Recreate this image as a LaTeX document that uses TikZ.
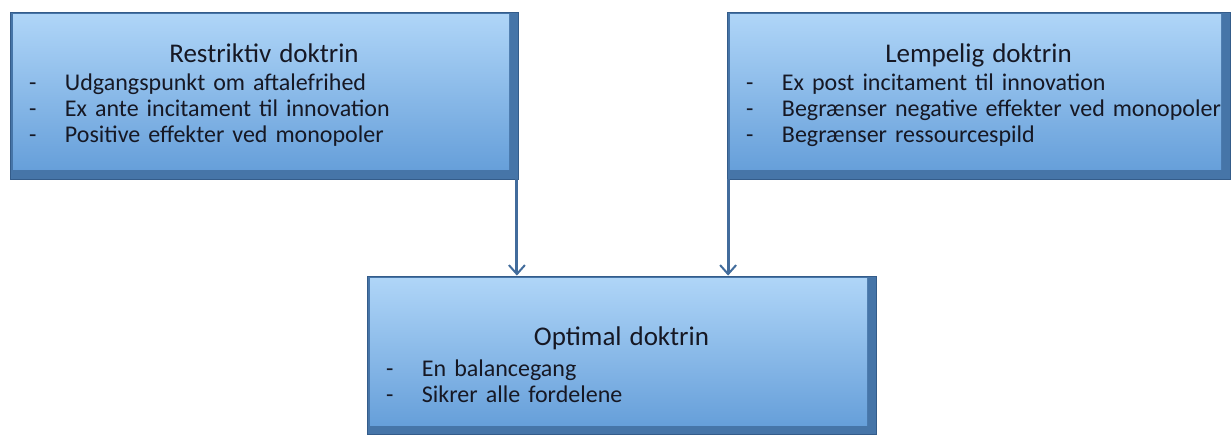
\documentclass[tikz,border=0pt]{standalone}
\usepackage{fontspec}
\setmainfont{Carlito}
\usepackage{tikz}
\usetikzlibrary{arrows.meta, positioning, calc}

\definecolor{bevelblue}{RGB}{70,117,168}
\definecolor{edgeblue}{RGB}{52,92,138}
\definecolor{lightblue}{RGB}{176,214,248}
\definecolor{midblue}{RGB}{98,156,216}
\definecolor{arrowblue}{RGB}{66,108,156}
\definecolor{textdark}{RGB}{22,24,36}

\newcommand{\punkt}[1]{\makebox[36pt][l]{-}\mbox{#1}}
\newcommand{\titel}[1]{\makebox[\linewidth][c]{\fontsize{27}{27}\selectfont#1}}

\begin{document}
\begin{tikzpicture}[
  x=1pt, y=-1pt,
  bevelbox/.style={rectangle, fill=bevelblue, draw=edgeblue, line width=0.8pt, inner xsep=19pt, inner ysep=0pt,
    font=\fontsize{24}{26}\selectfont, text=textdark, align=left,
    path picture={
      \shade[top color=lightblue, bottom color=midblue]
        ([shift={(3pt,-3pt)}]path picture bounding box.north west)
        rectangle ([shift={(-9pt,9pt)}]path picture bounding box.south east);
    }},
  arr/.style={-{Straight Barb[length=9pt, width=16pt, line width=2pt]}, draw=arrowblue, line width=3pt},
]
\useasboundingbox (0,0) rectangle (1232,438);

\node[bevelbox, minimum width=508pt, minimum height=167pt, text width=470pt] (restr) at (264,95.5)
  {\titel{Restriktiv doktrin}\\[2pt]
   \punkt{Udgangspunkt om aftalefrihed}\\
   \punkt{Ex ante incitament til innovation}\\
   \punkt{Positive effekter ved monopoler}};
\node[bevelbox, minimum width=503pt, minimum height=167pt, text width=465pt] (lemp) at (978.5,95.5)
  {\titel{Lempelig doktrin}\\[2pt]
   \punkt{Ex post incitament til innovation}\\
   \punkt{Begrænser negative effekter ved monopoler}\\
   \punkt{Begrænser ressourcespild}};
\node[bevelbox, minimum width=509pt, minimum height=158pt, text width=471pt] (opt) at (621.5,355)
  {\titel{\rule{0pt}{38pt}Optimal doktrin}\\[5pt]
   \punkt{En balancegang}\\
   \punkt{Sikrer alle fordelene}};

\draw[arr] ([xshift=-1.5pt]restr.south east) -- ([xshift=-1.5pt]restr.south east |- opt.north);
\draw[arr] ([xshift=1.5pt]lemp.south west) -- ([xshift=1.5pt]lemp.south west |- opt.north);
\end{tikzpicture}
\end{document}
